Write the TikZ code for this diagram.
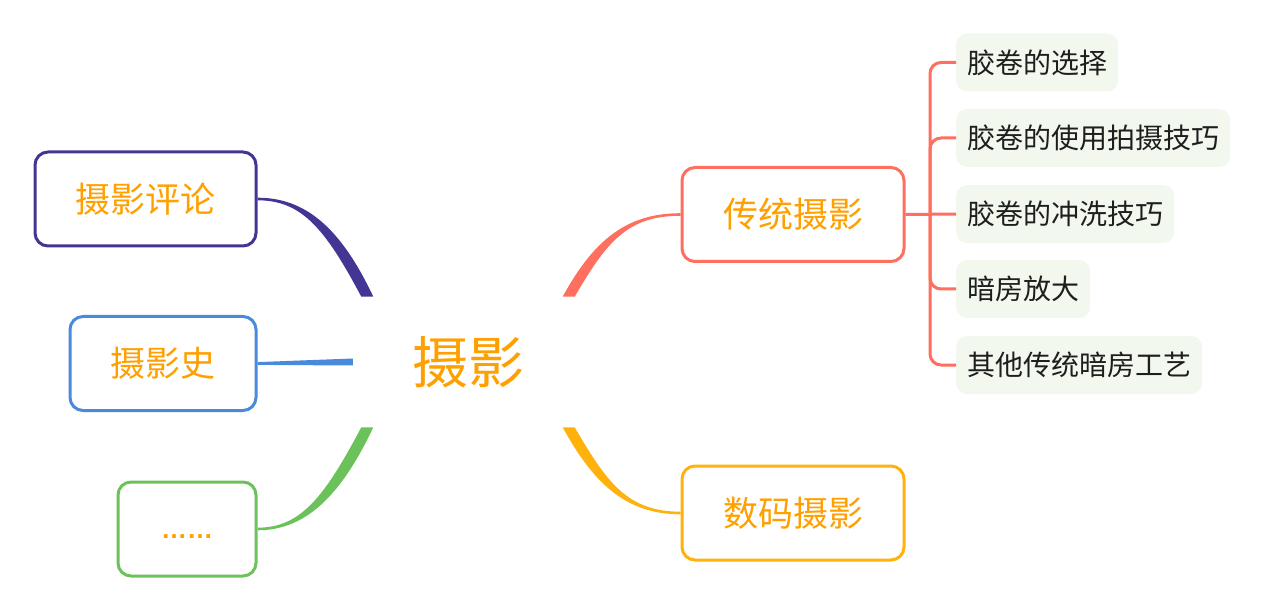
\documentclass[tikz,border=0pt]{standalone}
\usepackage{fontspec}
\usetikzlibrary{calc}
\newfontfamily\cjk{Noto Sans CJK SC}
\newfontfamily\latinsans{Liberation Sans}
\definecolor{cpurple}{HTML}{433593}
\definecolor{cblue}{HTML}{4A8ADA}
\definecolor{cgreen}{HTML}{6CC25A}
\definecolor{ccoral}{HTML}{FF6F5F}
\definecolor{cgold}{HTML}{FFB10C}
\definecolor{corange}{HTML}{FFA000}
\definecolor{childbg}{HTML}{F3F8EE}
\definecolor{childtext}{HTML}{1E1E1E}
\tikzset{
  mainbox/.style={draw=#1, line width=3pt, rounded corners=13pt, fill=white,
    minimum height=94pt, inner sep=0pt, text=corange,
    font=\cjk\fontsize{35pt}{40pt}\selectfont},
  childbox/.style={fill=childbg, rounded corners=11pt, minimum height=58pt,
    inner xsep=11pt, inner ysep=0pt, anchor=west, text=childtext,
    font=\cjk\fontsize{28pt}{32pt}\selectfont},
  branch/.style={ccoral, line width=3pt, rounded corners=11pt},
}
\begin{document}
\begin{tikzpicture}[x=1pt,y=-1pt]
\useasboundingbox (0,0) rectangle (1263,609);
% central
\node[circle, minimum size=240pt, inner sep=0pt, text=corange,
  font=\cjk\fontsize{56pt}{64pt}\selectfont] (c) at (468,362) {摄影};
% left boxes
\node[mainbox=cpurple, minimum width=221pt] (pc) at (145.5,199) {摄影评论};
\node[mainbox=cblue, minimum width=186pt] (bl) at (163,363.5) {摄影史};
\node[mainbox=cgreen, minimum width=138pt, font=\latinsans\bfseries\fontsize{26pt}{30pt}\selectfont] (gr) at (187,529) {\smash{\raisebox{-9pt}{……}}};
% right boxes
\node[mainbox=ccoral, minimum width=222pt] (tr) at (793,214.5) {传统摄影};
\node[mainbox=cgold, minimum width=222pt] (dg) at (793,513) {数码摄影};
% tapered connectors
\fill[cpurple] ($(pc.east)+(0,-1.3)$) .. controls +(47,0) and +(-33,-70) .. ($(c.147)+(6,0)$)
  -- ($(c.147)+(-6,0)$) .. controls +(-37,-70) and +(43,0) .. ($(pc.east)+(0,1.3)$) -- cycle;
\fill[cblue] ($(bl.east)+(0,-1.4)$) -- ($(c.west)+(5,-3.5)$) -- ($(c.west)+(5,3.5)$)
  -- ($(bl.east)+(0,1.4)$) -- cycle;
\fill[cgreen] ($(gr.east)+(0,1.3)$) .. controls +(47,0) and +(-33,70) .. ($(c.213)+(6,0)$)
  -- ($(c.213)+(-6,0)$) .. controls +(-37,70) and +(43,0) .. ($(gr.east)+(0,-1.3)$) -- cycle;
\fill[ccoral] ($(tr.west)+(0,-1.3)$) .. controls +(-55,0) and +(30,-55) .. ($(c.33)+(-6,0)$)
  -- ($(c.33)+(6,0)$) .. controls +(32,-55) and +(-53,0) .. ($(tr.west)+(0,1.3)$) -- cycle;
\fill[cgold] ($(dg.west)+(0,1.3)$) .. controls +(-55,0) and +(30,55) .. ($(c.-33)+(-6,0)$)
  -- ($(c.-33)+(6,0)$) .. controls +(32,55) and +(-53,0) .. ($(dg.west)+(0,-1.3)$) -- cycle;
% children
\node[childbox] (t1) at (956,62.5) {胶卷的选择};
\node[childbox] (t2) at (956,138) {胶卷的使用拍摄技巧};
\node[childbox] (t3) at (956,214) {胶卷的冲洗技巧};
\node[childbox] (t4) at (956,289) {暗房放大};
\node[childbox] (t5) at (956,365) {其他传统暗房工艺};
\coordinate (j) at (930,214);
\draw[branch] (tr.east) -- (t3.west);
\draw[branch] (j) |- (t1.west);
\draw[branch] (j) |- (t2.west);
\draw[branch] (j) |- (t4.west);
\draw[branch] (j) |- (t5.west);
\end{tikzpicture}
\end{document}
